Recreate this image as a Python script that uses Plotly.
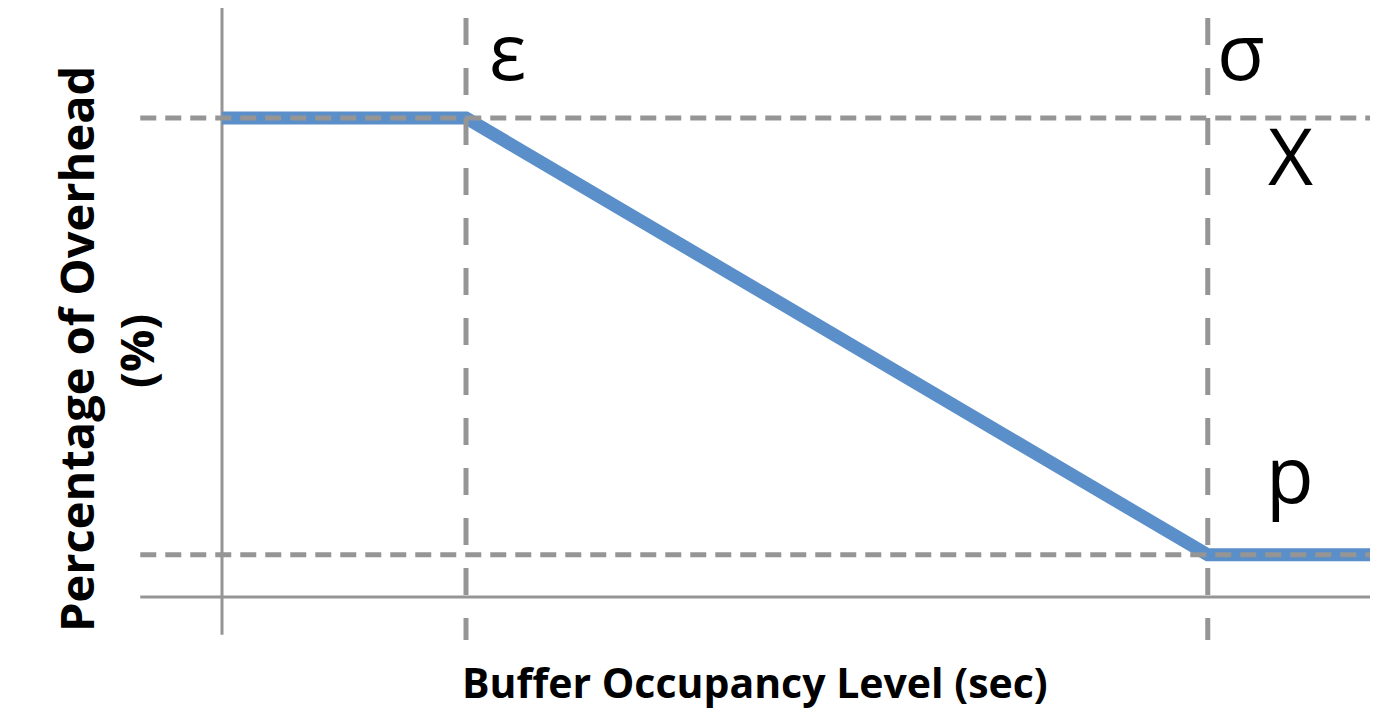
import plotly.graph_objects as go

# ---- data (conceptual units) ----
eps = 2.0          # ε threshold on buffer occupancy
sigma = 8.08       # σ threshold
x_end = 9.41       # right end of the drawn curve
x_left = -0.67     # left start of the reference lines
chi = 100.0        # X: max overhead level
p_level = 8.8      # p: min overhead level
y_top = 130.0      # top of y axis line (runs off the top)
y_axis_bottom = -7.9
vline_top = 120.9
vline_bottom = -9.0

curve_x = [0.0, eps, sigma, x_end]
curve_y = [chi, chi, p_level, p_level]

labels = ["ε", "σ", "Χ", "p"]

gray = "#959595"
blue = "#5B8FC9"

# page is offset by the 8px body margin; figure covers page pixels 8..1400 x 8..713
W, H, OFF = 1392, 705, 8

fig = go.Figure()

# axis lines
fig.add_trace(go.Scatter(x=[0, 0], y=[y_top, y_axis_bottom], mode="lines",
                         line=dict(color=gray, width=3), hoverinfo="skip"))
fig.add_trace(go.Scatter(x=[x_left, x_end], y=[0, 0], mode="lines",
                         line=dict(color=gray, width=3), hoverinfo="skip"))

# main curve
fig.add_trace(go.Scatter(x=curve_x, y=curve_y, mode="lines",
                         line=dict(color=blue, width=13), hoverinfo="skip"))

# horizontal dashed reference lines
for yv in [chi, p_level]:
    fig.add_trace(go.Scatter(x=[x_left, x_end], y=[yv, yv], mode="lines",
                             line=dict(color=gray, width=5, dash="16px,9px"),
                             hoverinfo="skip"))
# vertical dashed reference lines
for xv in [eps, sigma]:
    fig.add_trace(go.Scatter(x=[xv, xv], y=[vline_top, vline_bottom], mode="lines",
                             line=dict(color=gray, width=5, dash="27px,23px"),
                             hoverinfo="skip"))

sym_font = dict(family="Open Sans", size=78, color="black")
annots = [
    dict(x=eps, y=chi, text=labels[0], xshift=41, yshift=68),
    dict(x=sigma, y=chi, text=labels[1], xshift=33, yshift=68),
    dict(x=sigma, y=chi, text=labels[2], xshift=83, yshift=-37),
    dict(x=sigma, y=p_level, text=labels[3], xshift=82, yshift=82),
]
for a in annots:
    fig.add_annotation(xref="x", yref="y", showarrow=False, font=sym_font,
                       xanchor="center", yanchor="middle", **a)


def px(P):
    return (P - OFF) / W


def py(P):
    return 1 - (P - OFF) / H


xt_font = dict(family="Open Sans", size=41, color="black", weight="bold")
yt_font = dict(family="Open Sans", size=47, color="black", weight="bold")
fig.add_annotation(xref="paper", yref="paper", x=px(755), y=py(682),
                   text="Buffer Occupancy Level (sec)", showarrow=False,
                   font=xt_font, xanchor="center", yanchor="middle")
fig.add_annotation(xref="paper", yref="paper", x=px(76), y=py(349),
                   text="Percentage of Overhead", textangle=-90, showarrow=False,
                   font=yt_font, xanchor="center", yanchor="middle")
fig.add_annotation(xref="paper", yref="paper", x=px(136), y=py(351),
                   text="(%)", textangle=-90, showarrow=False,
                   font=yt_font, xanchor="center", yanchor="middle")

# ranges: page px -> data: x = (P-222)/122, y = (597-P)/4.79
fig.update_layout(
    width=W, height=H,
    margin=dict(l=0, r=0, t=0, b=0),
    paper_bgcolor="white", plot_bgcolor="white",
    showlegend=False,
    xaxis=dict(visible=False, range=[(OFF - 222) / 122, (1400 - 222) / 122], fixedrange=True),
    yaxis=dict(visible=False, range=[(597 - 713) / 4.79, (597 - OFF) / 4.79], fixedrange=True),
)

fig.write_html("out.html")
